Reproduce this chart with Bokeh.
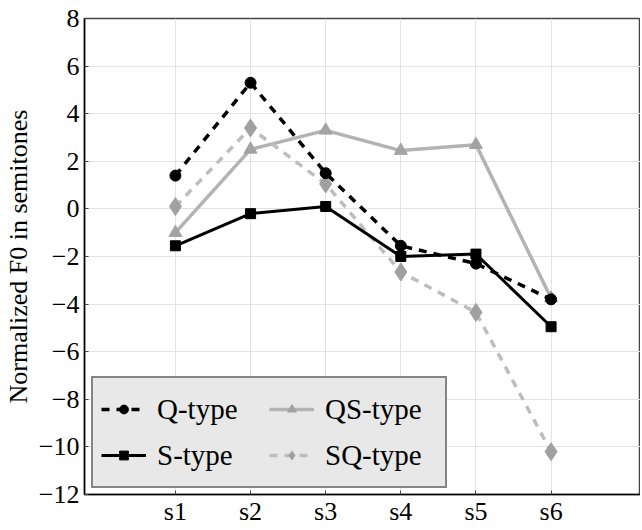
from bokeh.plotting import figure
from bokeh.models import (Range1d, FixedTicker, Legend, LegendItem,
                          ColumnDataSource)
from bokeh.embed import file_html
from bokeh.resources import INLINE

syllables = ["s1", "s2", "s3", "s4", "s5", "s6"]
positions = [1, 2, 3, 4, 5, 6]
q_type = [1.4, 5.3, 1.5, -1.55, -2.3, -3.8]
s_type = [-1.55, -0.2, 0.1, -2.0, -1.9, -4.95]
qs_type = [-1.0, 2.5, 3.3, 2.45, 2.7, -3.75]
sq_type = [0.1, 3.4, 1.05, -2.65, -4.35, -10.2]
y_ticks = [-12, -10, -8, -6, -4, -2, 0, 2, 4, 6, 8]

FONT = "Liberation Serif"

p = figure(width=640, height=528, output_backend="svg", toolbar_location=None,
           x_range=Range1d(-0.21, 7.19), y_range=Range1d(-12, 8),
           min_border_left=82, min_border_right=0, min_border_top=18,
           min_border_bottom=0)
p.outline_line_color = "#444444"
p.outline_line_width = 1.5
p.background_fill_color = "white"

# axes
p.xaxis.ticker = FixedTicker(ticks=positions)
p.xaxis.major_label_overrides = {pos: lab for pos, lab in zip(positions, syllables)}
p.yaxis.ticker = FixedTicker(ticks=y_ticks)
for ax in (p.xaxis[0], p.yaxis[0]):
    ax.axis_line_color = "black"
    ax.axis_line_width = 1.5
    ax.major_tick_in = 4
    ax.major_tick_out = 0
    ax.minor_tick_line_color = None
    ax.major_tick_line_color = "#444444"
    ax.major_label_text_font = FONT
    ax.major_label_text_font_size = "26px"
    ax.major_label_text_color = "black"
p.xaxis.major_label_standoff = 2
p.yaxis.major_label_standoff = 5
p.yaxis.axis_label = "Normalized F0 in semitones"
p.yaxis.axis_label_text_font = FONT
p.yaxis.axis_label_text_font_size = "26px"
p.yaxis.axis_label_text_font_style = "normal"
p.yaxis.axis_label_text_color = "black"
p.yaxis.axis_label_standoff = 3

p.xgrid.grid_line_color = "#e3e3e3"
p.ygrid.grid_line_color = "#e3e3e3"
p.xgrid.grid_line_width = 1
p.ygrid.grid_line_width = 1

src = ColumnDataSource(dict(x=positions, q=q_type, s=s_type, qs=qs_type, sq=sq_type))

# QS-type (gray solid, triangles)
l_qs = p.line("x", "qs", source=src, line_color="#b3b3b3", line_width=3.5)
m_qs = p.scatter("x", "qs", source=src, marker="triangle", size=13,
                 fill_color="#a3a3a3", line_color="#a3a3a3")
# SQ-type (gray dashed, diamonds)
l_sq = p.line("x", "sq", source=src, line_color="#bdbdbd", line_width=3.5,
              line_dash="8 7")
m_sq = p.scatter("x", "sq", source=src, marker="diamond", size=18,
                 fill_color="#a0a0a0", line_color="#a0a0a0")
# S-type (black solid, squares)
l_s = p.line("x", "s", source=src, line_color="black", line_width=3)
m_s = p.scatter("x", "s", source=src, marker="square", size=10,
                fill_color="black", line_color="black")
# Q-type (black dashed, circles)
l_q = p.line("x", "q", source=src, line_color="black", line_width=3.5,
             line_dash="8 7")
m_q = p.scatter("x", "q", source=src, marker="circle", size=11,
                fill_color="black", line_color="black")

legend = Legend(items=[
    LegendItem(label="Q-type", renderers=[l_q, m_q]),
    LegendItem(label="S-type", renderers=[l_s, m_s]),
    LegendItem(label="QS-type", renderers=[l_qs, m_qs]),
    LegendItem(label="SQ-type", renderers=[l_sq, m_sq]),
], location=(7, 6), ncols=2)
legend.label_text_font = FONT
legend.label_text_font_size = "29px"
legend.label_text_color = "black"
legend.glyph_width = 45
legend.glyph_height = 22
legend.label_height = 46
legend.label_width = 112
legend.label_standoff = 11
legend.spacing = 0
legend.padding = 8
legend.margin = 0
legend.border_line_color = "#222222"
legend.border_line_width = 2
legend.background_fill_color = "#e8e8e8"
legend.background_fill_alpha = 1.0
p.add_layout(legend, "center")

html = file_html(p, INLINE)
open("out.html", "w").write(html)
